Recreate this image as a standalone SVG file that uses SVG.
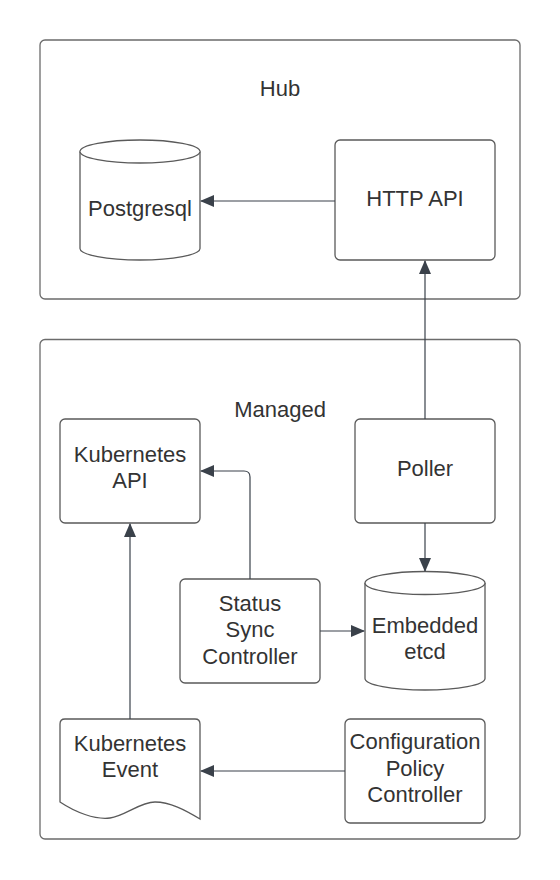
<svg xmlns="http://www.w3.org/2000/svg" width="560" height="880" viewBox="0 0 560 880">
<style>
.container{fill:#fff;stroke:#6b6b6b;stroke-width:1.3}
.box{fill:#fff;stroke:#5a5a5a;stroke-width:1.3}
.lbl{font-family:"Liberation Sans",Arial,sans-serif;font-size:22px;fill:#333;text-anchor:middle}
.conn{fill:none;stroke:#3a414a;stroke-width:1.2}
</style>
<defs>
<marker id="arr" viewBox="0 0 14 12" refX="13" refY="6" markerWidth="14" markerHeight="12" markerUnits="userSpaceOnUse" orient="auto">
<path d="M0,0 L14,6 L0,12 Z" fill="#3a414a"/>
</marker>
</defs>
<rect width="560" height="880" fill="#fff"/>
<g id="hub">
<rect class="container" x="40" y="40" width="480" height="259" rx="5"/>
<text class="lbl" x="280" y="96">Hub</text>
</g>
<g id="managed">
<rect class="container" x="40" y="339.5" width="480" height="499.5" rx="5"/>
<text class="lbl" x="280" y="417">Managed</text>
</g>
<g id="postgresql">
<path class="box" d="M80,151.5 A60,11.5 0 0 1 200,151.5 V248.5 A60,11.5 0 0 1 80,248.5 Z"/>
<path class="box" d="M80,151.5 A60,11.5 0 0 0 200,151.5" fill="none"/>
<text class="lbl" x="140" y="216">Postgresql</text>
</g>
<g id="http-api">
<rect class="box" x="335" y="140" width="160" height="120" rx="5"/>
<text class="lbl" x="415" y="206">HTTP API</text>
</g>
<g id="kubernetes-api">
<rect class="box" x="60" y="419" width="140" height="104" rx="5"/>
<text class="lbl" x="130" y="462">Kubernetes</text>
<text class="lbl" x="130" y="488">API</text>
</g>
<g id="poller">
<rect class="box" x="355" y="419" width="140" height="104" rx="5"/>
<text class="lbl" x="425" y="476">Poller</text>
</g>
<g id="status-sync-controller">
<rect class="box" x="180" y="579" width="140" height="104" rx="5"/>
<text class="lbl" x="250" y="611">Status</text>
<text class="lbl" x="250" y="637">Sync</text>
<text class="lbl" x="250" y="664">Controller</text>
</g>
<g id="embedded-etcd">
<path class="box" d="M365,583 A60,11.5 0 0 1 485,583 V678.5 A60,11.5 0 0 1 365,678.5 Z"/>
<path class="box" d="M365,583 A60,11.5 0 0 0 485,583" fill="none"/>
<text class="lbl" x="425" y="633">Embedded</text>
<text class="lbl" x="425" y="659">etcd</text>
</g>
<g id="kubernetes-event">
<path class="box" d="M60,802 V724 Q60,719 65,719 H195 Q200,719 200,724 V819 C185,810 170,802 155,802 C140,802 125,816 110,818 C95,820 75,812 60,802 Z"/>
<text class="lbl" x="130" y="751">Kubernetes</text>
<text class="lbl" x="130" y="777">Event</text>
</g>
<g id="configuration-policy-controller">
<rect class="box" x="345" y="719" width="140" height="104" rx="5"/>
<text class="lbl" x="415" y="749">Configuration</text>
<text class="lbl" x="415" y="776">Policy</text>
<text class="lbl" x="415" y="802">Controller</text>
</g>
<g id="connectors">
<path class="conn" d="M335,201 H201" marker-end="url(#arr)"/>
<path class="conn" d="M425,419 V261" marker-end="url(#arr)"/>
<path class="conn" d="M425,523 V571" marker-end="url(#arr)"/>
<path class="conn" d="M250,579 V477 Q250,471 244,471 H201" marker-end="url(#arr)"/>
<path class="conn" d="M320,631 H364" marker-end="url(#arr)"/>
<path class="conn" d="M130,719 V524" marker-end="url(#arr)"/>
<path class="conn" d="M345,771 H201" marker-end="url(#arr)"/>
</g>
</svg>
